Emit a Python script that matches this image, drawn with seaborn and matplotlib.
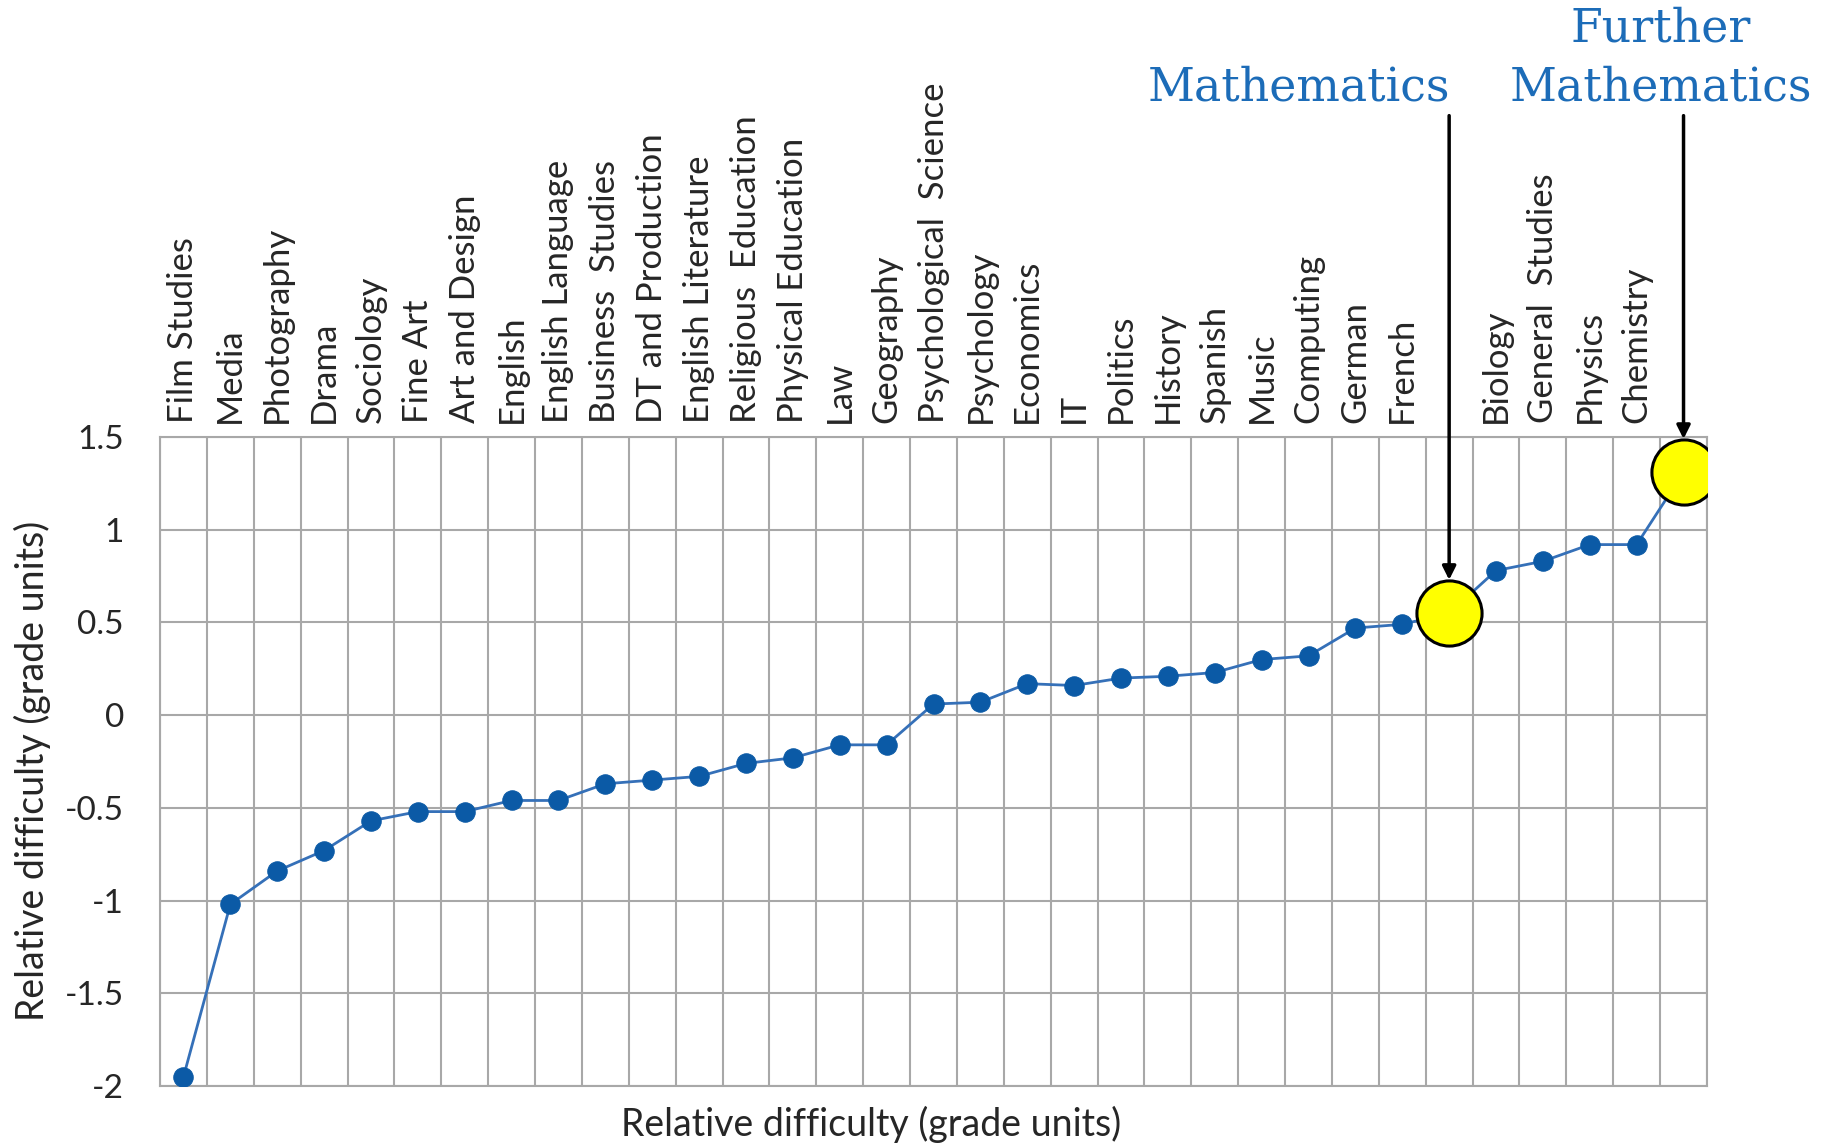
import matplotlib
matplotlib.use("Agg")
import matplotlib.pyplot as plt
import seaborn as sns
import numpy as np
import pandas as pd

# subjects ordered by relative difficulty (blank label = highlighted subject)
subjects = ["Film Studies", "Media", "Photography", "Drama", "Sociology", "Fine Art",
            "Art and Design", "English", "English Language", "Business  Studies",
            "DT and Production", "English Literature", "Religious  Education",
            "Physical Education", "Law", "Geography", "Psychological  Science",
            "Psychology", "Economics", "IT", "Politics", "History", "Spanish", "Music",
            "Computing", "German", "French", "Mathematics", "Biology", "General  Studies",
            "Physics", "Chemistry", "Further Mathematics"]
difficulty = [-1.95, -1.02, -0.84, -0.73, -0.57, -0.52, -0.52, -0.46, -0.46, -0.37,
              -0.35, -0.33, -0.26, -0.23, -0.16, -0.16, 0.06, 0.07, 0.17, 0.16,
              0.20, 0.21, 0.23, 0.30, 0.32, 0.47, 0.49, 0.55, 0.78, 0.83,
              0.92, 0.92, 1.31]
highlight = ["Mathematics", "Further Mathematics"]
yticks = [-2, -1.5, -1, -0.5, 0, 0.5, 1, 1.5]
ytick_labels = ["-2", "-1.5", "-1", "-0.5", "0", "0.5", "1", "1.5"]

df = pd.DataFrame({"subject": subjects, "difficulty": difficulty})
df["pos"] = np.arange(len(df))

sns.set_style("white")
plt.rcParams["font.family"] = ["Lato", "DejaVu Sans"]

fig = plt.figure(figsize=(18.27, 11.45), dpi=100)
ax = fig.add_axes([0.0876, 0.0515, 0.8467, 0.5668])

sns.lineplot(data=df, x="pos", y="difficulty", ax=ax, color="#3570b8", lw=2,
             marker="o", markersize=14, markerfacecolor="#0b5aa6",
             markeredgecolor="#0b5aa6", zorder=3)

hl = df[df["subject"].isin(highlight)]
sns.scatterplot(data=hl, x="pos", y="difficulty", ax=ax, s=2200, color="#ffff00",
                edgecolor="black", linewidth=2.2, zorder=5)

ax.set_xlim(-0.5, len(df) - 0.5)
ax.set_ylim(-2, 1.5)
ax.set_yticks(yticks)
ax.set_yticklabels(ytick_labels, fontsize=24)
ax.tick_params(axis="y", length=0, pad=26)

ax.xaxis.tick_top()
ax.set_xticks(df["pos"])
ax.set_xticklabels([s if s not in highlight else "" for s in subjects],
                   rotation=90, fontsize=25)
ax.tick_params(axis="x", length=0, pad=10)
ax.set_xticks(np.arange(-0.5, len(df)), minor=True)
ax.tick_params(axis="x", which="minor", length=0)
ax.grid(True, which="minor", axis="x", color="#a8a8a8", lw=1.5)
ax.grid(True, which="major", axis="y", color="#a8a8a8", lw=1.5)
ax.grid(False, which="major", axis="x")
for sp in ax.spines.values():
    sp.set_color("#a8a8a8")
    sp.set_linewidth(1.5)
ax.set_xlabel("")
ax.set_ylabel("")

fig.text(0.477, 0.018, "Relative difficulty (grade units)", fontsize=27,
         ha="center", va="center")
fig.text(0.018, 0.327, "Relative difficulty (grade units)", fontsize=27,
         ha="center", va="center", rotation=90)

blue = "#1c6cb8"
fig.text(0.711, 0.923, "Mathematics", fontsize=33, color=blue,
         family="DejaVu Serif", ha="center", va="center")
fig.text(0.909, 0.975, "Further", fontsize=33, color=blue,
         family="DejaVu Serif", ha="center", va="center")
fig.text(0.909, 0.923, "Mathematics", fontsize=33, color=blue,
         family="DejaVu Serif", ha="center", va="center")

for name in highlight:
    row = df[df["subject"] == name].iloc[0]
    ax.annotate("", xy=(row["pos"], row["difficulty"]), xycoords="data",
                xytext=(row["pos"], 0.899), textcoords=("data", "figure fraction"),
                arrowprops=dict(arrowstyle="-|>", color="black", lw=2.5,
                                mutation_scale=20, shrinkA=0, shrinkB=24),
                annotation_clip=False, zorder=6)

fig.savefig("out.png", dpi=100)
